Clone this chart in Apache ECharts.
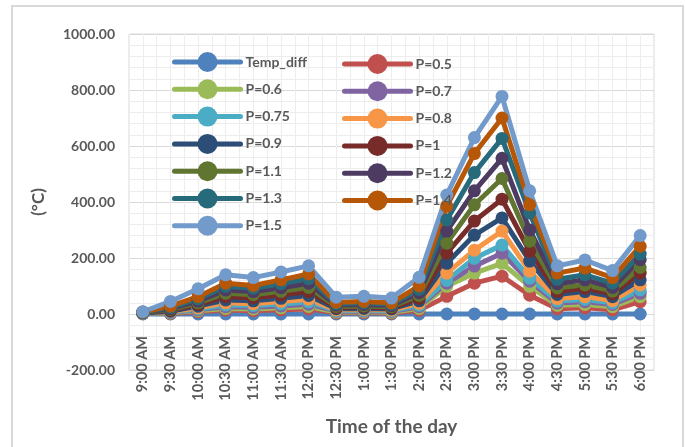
<!DOCTYPE html>
<html>
<head>
<meta charset="utf-8">
<script src="https://cdn.jsdelivr.net/npm/echarts@6/dist/echarts.min.js"></script>
<style>
    html, body { margin: 0; padding: 0; background: #fff; }
    #main { width: 685px; height: 447px; }
</style>
</head>
<body>
<div id="main"></div>
<script>
// 时间
var times = ['9:00 AM', '9:30 AM', '10:00 AM', '10:30 AM', '11:00 AM', '11:30 AM', '12:00 PM',
    '12:30 PM', '1:00 PM', '1:30 PM', '2:00 PM', '2:30 PM', '3:00 PM', '3:30 PM', '4:00 PM',
    '4:30 PM', '5:00 PM', '5:30 PM', '6:00 PM'];

var tempDiff = [0, 0, 0, 0, 0, 0, 0, 0, 0, 0, 0, 0, 0, 0, 0, 0, 0, 0, 0];
var p05  = [2, 2, 8, 14, 12, 15, 18, 4, 5, 3, 13, 63, 110, 135, 67, 19, 22, 15, 44];
var p06  = [2, 4, 12, 20, 18, 22, 27, 7, 8, 6, 20, 99, 146, 181, 99, 31, 34, 26, 62];
var p07  = [3, 5, 15, 26, 24, 29, 35, 10, 11, 9, 26, 110, 171, 217, 117, 39, 44, 34, 74];
var p075 = [3, 6, 18, 32, 30, 36, 43, 12, 13, 11, 31, 120, 199, 246, 128, 46, 52, 40, 86];
var p08  = [4, 8, 22, 40, 37, 45, 53, 15, 16, 14, 38, 146, 228, 296, 153, 55, 62, 48, 104];
var p09  = [4, 10, 28, 50, 47, 56, 66, 19, 20, 18, 47, 181, 282, 343, 189, 70, 80, 62, 122];
var p10  = [5, 13, 34, 62, 58, 68, 80, 23, 25, 22, 56, 217, 332, 410, 224, 80, 92, 72, 146];
var p11  = [5, 16, 40, 74, 69, 81, 95, 27, 29, 26, 66, 253, 390, 484, 260, 93, 104, 82, 166];
var p12  = [6, 19, 46, 86, 80, 94, 110, 32, 34, 30, 76, 296, 440, 556, 300, 108, 122, 95, 194];
var p13  = [6, 23, 54, 99, 92, 108, 126, 37, 40, 35, 88, 336, 505, 627, 361, 124, 140, 110, 214];
var p14  = [7, 28, 62, 110, 102, 122, 143, 42, 45, 40, 100, 385, 573, 700, 390, 146, 164, 130, 242];
var p15  = [8, 45, 90, 140, 130, 150, 172, 60, 63, 57, 131, 425, 630, 777, 440, 172, 193, 155, 280];

var names  = ['Temp_diff', 'P=0.5', 'P=0.6', 'P=0.7', 'P=0.75', 'P=0.8', 'P=0.9', 'P=1', 'P=1.1', 'P=1.2', 'P=1.3', 'P=1.4', 'P=1.5'];
var values = [tempDiff, p05, p06, p07, p075, p08, p09, p10, p11, p12, p13, p14, p15];
var colors = ['#4F81BD', '#C0504D', '#9BBB59', '#8064A2', '#4BACC6', '#F79646', '#2C4D75',
    '#772C2A', '#5F7530', '#4D3B62', '#276A7C', '#B65708', '#729ACA'];

var font = 'Lato, "Open Sans", sans-serif';
var textColor = '#595959';

var series = [];
for (var i = 0; i < names.length; i++) {
    series.push({
        name: names[i],
        type: 'line',
        data: values[i],
        symbol: 'circle',
        symbolSize: 13,
        color: colors[i],
        lineStyle: { width: 5, color: colors[i] },
        itemStyle: { color: colors[i] }
    });
}
// 细网格竖线用的隐藏轴
series.push({ type: 'line', xAxisIndex: 1, data: [], silent: true });

var legendBase = {
    orient: 'vertical',
    padding: 0,
    itemWidth: 66,
    itemHeight: 25,
    itemGap: 7.3,
    lineStyle: { width: 5, cap: 'round' },
    textStyle: { fontFamily: font, fontWeight: 'bold', fontSize: 14, color: textColor },
    selectedMode: false
};

var option = {
    animation: false,
    backgroundColor: '#fff',
    graphic: [{
        type: 'rect',
        shape: { x: 12, y: 6, width: 671, height: 460 },
        style: { fill: 'none', stroke: '#D9D9D9', lineWidth: 2 },
        z: -1
    }],
    legend: [
        Object.assign({}, legendBase, { left: 172, top: 52, data: ['Temp_diff', 'P=0.6', 'P=0.75', 'P=0.9', 'P=1.1', 'P=1.3', 'P=1.5'] }),
        Object.assign({}, legendBase, { left: 342, top: 54, data: ['P=0.5', 'P=0.7', 'P=0.8', 'P=1', 'P=1.2', 'P=1.4'] })
    ],
    grid: {
        left: 129, top: 34, width: 525, height: 336,
        outerBoundsMode: 'none',
        show: true, borderColor: '#D9D9D9', borderWidth: 1
    },
    xAxis: [{
        type: 'category',
        data: times,
        boundaryGap: true,
        // 横轴放在 0 的位置
        offset: -56,
        name: 'Time of the day',
        nameLocation: 'middle',
        nameGap: 103,
        nameTextStyle: { fontFamily: font, fontWeight: 'bold', fontSize: 19, color: textColor },
        axisLine: { onZero: false, lineStyle: { color: '#D9D9D9' } },
        axisTick: { show: false },
        axisLabel: {
            rotate: 90, interval: 0, margin: 22,
            fontFamily: font, fontWeight: 'bold', fontSize: 14.5, color: textColor
        },
        splitLine: { show: true, lineStyle: { color: '#D9D9D9', width: 1 } }
    }, {
        type: 'value',
        min: 0, max: 38, interval: 1,
        show: true,
        axisLine: { show: false },
        axisTick: { show: false },
        axisLabel: { show: false },
        splitLine: { show: true, lineStyle: { color: '#EDEDED', width: 1 } }
    }],
    yAxis: {
        type: 'value',
        min: -200, max: 1000, interval: 200,
        name: '(°C)',
        nameLocation: 'middle',
        nameGap: 82,
        nameTextStyle: { fontFamily: font, fontWeight: 'bold', fontSize: 17, color: textColor },
        axisLine: { show: false },
        axisTick: { show: false },
        axisLabel: {
            margin: 14,
            fontFamily: font, fontWeight: 'bold', fontSize: 14, color: textColor,
            formatter: function (v) { return v.toFixed(2); }
        },
        splitLine: { show: true, lineStyle: { color: '#D9D9D9', width: 1 } },
        minorTick: { show: false, splitNumber: 5 },
        minorSplitLine: { show: true, lineStyle: { color: '#EDEDED', width: 1 } }
    },
    series: series
};

var myChart = echarts.init(document.getElementById('main'));
myChart.setOption(option);
</script>
</body>
</html>
